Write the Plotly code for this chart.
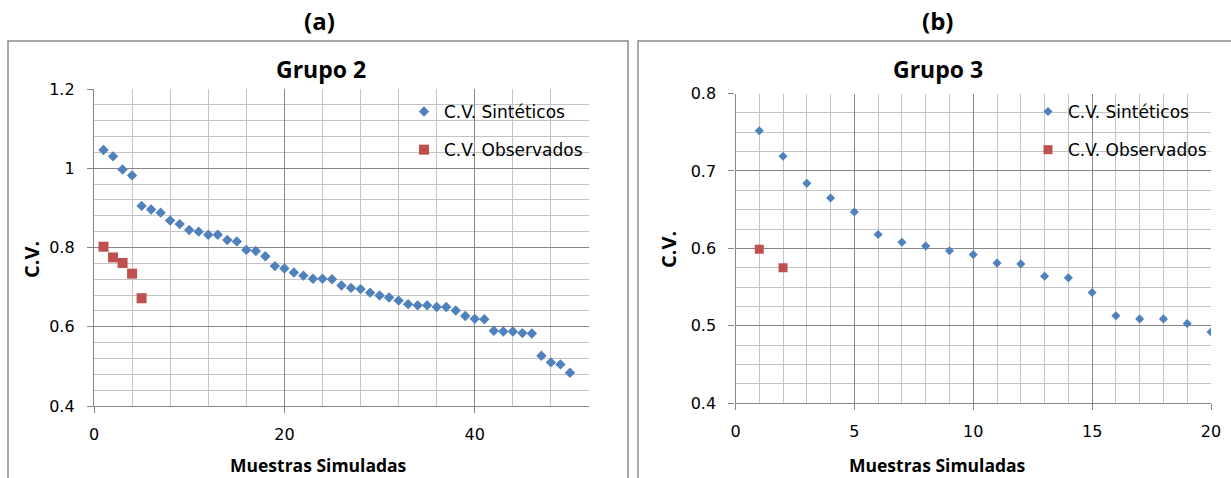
import plotly.graph_objects as go

# ---------------- data ----------------
a_sint_x = list(range(1, 51))
a_sint_y = [1.046, 1.030, 0.997, 0.982, 0.905, 0.896, 0.888, 0.868, 0.859, 0.844,
            0.840, 0.832, 0.832, 0.819, 0.815, 0.794, 0.791, 0.778, 0.753, 0.747,
            0.737, 0.729, 0.721, 0.721, 0.720, 0.704, 0.698, 0.695, 0.686, 0.679,
            0.674, 0.666, 0.657, 0.654, 0.654, 0.650, 0.650, 0.641, 0.627, 0.620,
            0.619, 0.590, 0.588, 0.588, 0.584, 0.583, 0.527, 0.510, 0.505, 0.484]
a_obs_x = [1, 2, 3, 4, 5]
a_obs_y = [0.802, 0.775, 0.761, 0.734, 0.672]

b_sint_x = list(range(1, 21))
b_sint_y = [0.752, 0.719, 0.684, 0.665, 0.647, 0.618, 0.608, 0.603, 0.597, 0.592,
            0.581, 0.580, 0.564, 0.562, 0.543, 0.513, 0.509, 0.509, 0.503, 0.492]
b_obs_x = [1, 2]
b_obs_y = [0.599, 0.575]

a_xticks = [0, 20, 40]
a_yticks = [0.4, 0.6, 0.8, 1.0, 1.2]
b_xticks = [0, 5, 10, 15, 20]
b_yticks = [0.4, 0.5, 0.6, 0.7, 0.8]

series_names = ["C.V. Sintéticos", "C.V. Observados"]
panel_labels = ["(a)", "(b)"]
panel_titles = ["Grupo 2", "Grupo 3"]
x_title = "Muestras Simuladas"
y_title = "C.V."

# ---------------- style ----------------
W, H = 1231, 478
OFF = 0  # page body margin removed by post_script
FONT = "DejaVu Sans, sans-serif"
BFONT = "Open Sans, DejaVu Sans, sans-serif"
BLUE = "#4F81BD"
RED = "#C0504D"
MAJ = "#868686"
MIN = "#C4C4C4"


def px(x):
    return (x - OFF) / W


def py(y):
    return 1 - (y - OFF) / H


fig = go.Figure()

fig.add_trace(go.Scatter(x=a_sint_x, y=a_sint_y, mode="markers", name=series_names[0],
                         marker=dict(symbol="diamond", size=8, color=BLUE),
                         xaxis="x", yaxis="y", legend="legend", legendgroup="a1"))
fig.add_trace(go.Scatter(x=a_obs_x, y=a_obs_y, mode="markers", name=series_names[1],
                         marker=dict(symbol="square", size=10, color=RED),
                         xaxis="x", yaxis="y", legend="legend", legendgroup="a2"))
fig.add_trace(go.Scatter(x=b_sint_x, y=b_sint_y, mode="markers", name=series_names[0],
                         marker=dict(symbol="diamond", size=7, color=BLUE),
                         xaxis="x2", yaxis="y2", legend="legend2", legendgroup="b1"))
fig.add_trace(go.Scatter(x=b_obs_x, y=b_obs_y, mode="markers", name=series_names[1],
                         marker=dict(symbol="square", size=9, color=RED),
                         xaxis="x2", yaxis="y2", legend="legend2", legendgroup="b2"))


def axis_common():
    return dict(showline=True, linecolor=MAJ, linewidth=1.3, mirror=False,
                showgrid=True, gridcolor=MAJ, gridwidth=1,
                ticks="outside", ticklen=6, tickcolor=MAJ, tickwidth=1.3,
                tickfont=dict(family=FONT, size=16, color="black"),
                zeroline=False, fixedrange=True, automargin=False)


xa = axis_common()
xa.update(domain=[px(94), px(589)], range=[0, 52], tickvals=a_xticks, anchor="y",
          minor=dict(dtick=4, tick0=0, showgrid=True, gridcolor=MIN, gridwidth=1.3),
          ticklabelstandoff=8)
ya = axis_common()
ya.update(domain=[py(406), py(89)], range=[0.4, 1.2], tickvals=a_yticks, anchor="x",
          minor=dict(dtick=0.04, tick0=0.4, showgrid=True, gridcolor=MIN, gridwidth=1.3),
          ticklabelstandoff=9)
xb = axis_common()
xb.update(domain=[px(735.5), px(1211)], range=[0, 20], tickvals=b_xticks, anchor="y2",
          minor=dict(dtick=1, tick0=0, showgrid=True, gridcolor=MIN, gridwidth=1.3),
          ticklabelstandoff=7)
yb = axis_common()
yb.update(domain=[py(403.3), py(93.5)], range=[0.4, 0.8], tickvals=b_yticks, anchor="x2",
          minor=dict(dtick=0.025, tick0=0.4, showgrid=True, gridcolor=MIN, gridwidth=1.3),
          ticklabelstandoff=9)

leg_common = dict(bgcolor="rgba(0,0,0,0)", font=dict(family=FONT, size=17, color="black"),
                  tracegroupgap=13, xanchor="left", yanchor="top", itemsizing="trace")
leg1 = dict(leg_common, x=px(404), y=py(94))
leg2 = dict(leg_common, x=px(1028), y=py(94))

annotations = []
for cx, lab, title in [(320, panel_labels[0], panel_titles[0]), (937, panel_labels[1], panel_titles[1])]:
    annotations.append(dict(text="<b>%s</b>" % lab, x=px(cx), y=py(20), xref="paper", yref="paper",
                            xanchor="center", yanchor="middle",
                            showarrow=False, font=dict(family=BFONT, size=24, color="black")))
    annotations.append(dict(text="<b>%s</b>" % title, x=px(cx + 1), y=py(69), xref="paper", yref="paper",
                            xanchor="center", yanchor="middle",
                            showarrow=False, font=dict(family=BFONT, size=23, color="black")))
for cx in [318, 937]:
    annotations.append(dict(text="<b>%s</b>" % x_title, x=px(cx), y=py(465), xref="paper", yref="paper",
                            xanchor="center", yanchor="middle",
                            showarrow=False, font=dict(family=BFONT, size=17.5, color="black")))
for cx, cy in [(31, 260), (668, 250)]:
    annotations.append(dict(text="<b>%s</b>" % y_title, x=px(cx), y=py(cy), xref="paper", yref="paper",
                            xanchor="center", yanchor="middle",
                            showarrow=False, textangle=-90, font=dict(family=BFONT, size=20, color="black")))

shapes = [
    dict(type="rect", xref="paper", yref="paper", x0=px(8), x1=px(628), y0=py(520), y1=py(41),
         line=dict(color="#8C8C8C", width=1.5)),
    dict(type="rect", xref="paper", yref="paper", x0=px(638), x1=px(1260), y0=py(520), y1=py(41),
         line=dict(color="#8C8C8C", width=1.5)),
]

fig.update_layout(
    template="none",
    width=W, height=H, margin=dict(l=0, r=0, t=0, b=0, pad=0, autoexpand=False),
    paper_bgcolor="white", plot_bgcolor="white",
    font=dict(family=FONT, color="black"),
    xaxis=xa, yaxis=ya, xaxis2=xb, yaxis2=yb,
    legend=leg1, legend2=leg2,
    annotations=annotations, shapes=shapes,
)

fig.write_html("out.html",
               config={"displayModeBar": False, "staticPlot": False},
               post_script="document.body.style.margin='0px';document.body.style.overflow='hidden';")
